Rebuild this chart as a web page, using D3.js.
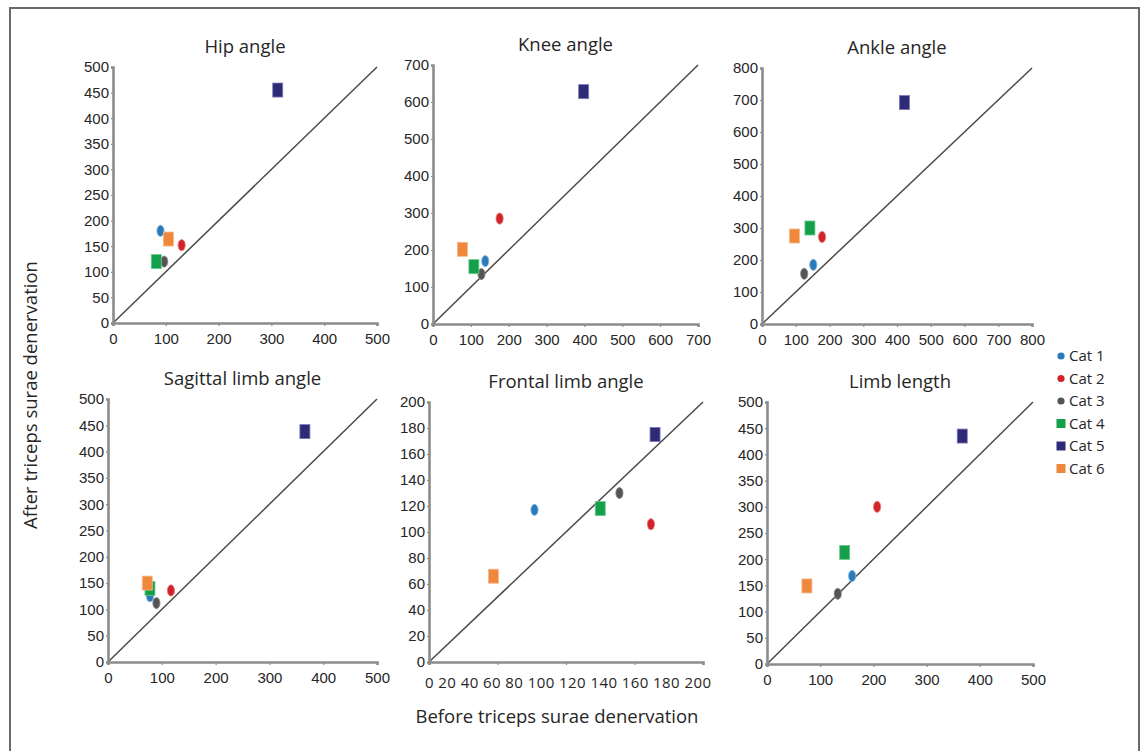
<!DOCTYPE html>
<html>
<head>
<meta charset="utf-8">
<script src="https://cdn.jsdelivr.net/npm/d3@7"></script>
<style>
  html, body { margin: 0; padding: 0; background: #fff; }
  svg { display: block; font-family: "Open Sans", "Noto Sans", sans-serif; }
</style>
</head>
<body>
<svg id="chart" width="1144" height="751"></svg>
<script>
// ---------- DATA ----------
const categories = ["Cat 1", "Cat 2", "Cat 3", "Cat 4", "Cat 5", "Cat 6"];
const panelTitles = ["Hip angle", "Knee angle", "Ankle angle", "Sagittal limb angle", "Frontal limb angle", "Limb length"];

// before (x) and after (y) triceps surae denervation, one value per cat
const hipBefore      = [90, 130, 97, 82, 312, 105];
const hipAfter       = [180, 152, 120, 120, 455, 164];
const kneeBefore     = [138, 176, 128, 108, 398, 78];
const kneeAfter      = [170, 285, 135, 155, 628, 202];
const ankleBefore    = [152, 178, 125, 142, 422, 96];
const ankleAfter     = [185, 272, 157, 300, 692, 275];
const sagittalBefore = [78, 117, 90, 78, 366, 73];
const sagittalAfter  = [125, 136, 112, 140, 438, 150];
const frontalBefore  = [77, 162, 139, 125, 165, 47];
const frontalAfter   = [117, 106, 130, 118, 175, 66];
const lengthBefore   = [160, 207, 133, 146, 367, 75];
const lengthAfter    = [168, 300, 134, 213, 435, 149];

// axis maxima and tick values
const axisMax = [500, 700, 800, 500, 200, 500];
const yTicks = [
  d3.range(0, 501, 50), d3.range(0, 701, 100), d3.range(0, 801, 100),
  d3.range(0, 501, 50), d3.range(0, 201, 20), d3.range(0, 501, 50)
];
const xTicks = [
  d3.range(0, 501, 100), d3.range(0, 701, 100), d3.range(0, 801, 100),
  d3.range(0, 501, 100), d3.range(0, 201, 50), d3.range(0, 501, 100)
];
// frontal panel x labels are printed as a single spaced string
const frontalXTickLabels = [0, 20, 40, 60, 80, 100, 120, 140, 160, 180, 200];

const xLabel = "Before triceps surae denervation";
const yLabel = "After triceps surae denervation";

// ---------- STYLE / LAYOUT ----------
const catColors = ["#2b7bba", "#d2232a", "#555555", "#14a04a", "#2e2a78", "#f0883c"];
const catShapes = ["circle", "circle", "circle", "square", "square", "square"];
const catStroke = ["#7fb3dc", "#ea7a7e", "#8a8a8a", "#6cc98e", "#7a78b8", "#f6b88a"];

// pixel boxes for each panel: [left, right, bottom, top]
const boxes = [
  [113, 377, 323, 67],
  [433, 698, 324, 65],
  [762, 1032, 324, 68],
  [108, 377, 662, 399],
  [429, 703, 662, 402],
  [767, 1033, 664, 402]
];

const panelData = [
  [hipBefore, hipAfter], [kneeBefore, kneeAfter], [ankleBefore, ankleAfter],
  [sagittalBefore, sagittalAfter], [frontalBefore, frontalAfter], [lengthBefore, lengthAfter]
];

const svg = d3.select("#chart");
const textColor = "#262626";
const axisColor = "#8c8c8c";

// frame
svg.append("rect")
  .attr("x", 10).attr("y", 8).attr("width", 1129).attr("height", 800)
  .attr("fill", "none").attr("stroke", "#6a6a6a").attr("stroke-width", 2);

panelTitles.forEach((title, i) => {
  const [l, r, b, t] = boxes[i];
  const x = d3.scaleLinear().domain([0, axisMax[i]]).range([l, r]);
  const y = d3.scaleLinear().domain([0, axisMax[i]]).range([b, t]);
  const g = svg.append("g");

  // diagonal identity line
  g.append("line")
    .attr("x1", x(0)).attr("y1", y(0))
    .attr("x2", x(axisMax[i])).attr("y2", y(axisMax[i]))
    .attr("stroke", "#4a4a4a").attr("stroke-width", 1.5);

  // y axis
  const ya = g.append("g").attr("transform", `translate(${l},0)`)
    .call(d3.axisLeft(y).tickValues(yTicks[i]).tickSize(2).tickPadding(2).tickFormat(d3.format("d")));
  // x axis
  const xa = g.append("g").attr("transform", `translate(0,${b})`)
    .call(d3.axisBottom(x).tickValues(xTicks[i]).tickSize(3).tickPadding(5)
      .tickFormat(i === 4 ? () => "" : d3.format("d")));

  [ya, xa].forEach(a => {
    a.select(".domain").attr("stroke", axisColor).attr("stroke-width", 2.6);
    a.selectAll(".tick line").attr("stroke", axisColor).attr("stroke-width", 1.2);
    a.selectAll(".tick text").attr("fill", textColor).style("font-size", "15px");
  });
  xa.selectAll(".tick text").attr("dy", "0.85em");

  if (i === 4) {
    g.append("text")
      .attr("x", x(0) - 4).attr("y", b + 26)
      .attr("textLength", x(axisMax[i]) - x(0) + 12)
      .attr("lengthAdjust", "spacing")
      .attr("fill", textColor).style("font-size", "15px")
      .text(frontalXTickLabels.join(" "));
  }

  // title
  g.append("text")
    .attr("x", (l + r) / 2).attr("y", t - 14)
    .attr("text-anchor", "middle").attr("fill", textColor)
    .style("font-size", "18.5px")
    .text(title);

  // points
  const [xs, ys] = panelData[i];
  categories.forEach((c, k) => {
    const px = x(xs[k]), py = y(ys[k]);
    if (catShapes[k] === "circle") {
      g.append("ellipse").attr("cx", px).attr("cy", py)
        .attr("rx", 3.6).attr("ry", 5.6)
        .attr("fill", catColors[k]).attr("stroke", catStroke[k]).attr("stroke-width", 0.8);
    } else {
      g.append("rect").attr("x", px - 5).attr("y", py - 7)
        .attr("width", 10).attr("height", 14)
        .attr("fill", catColors[k]).attr("stroke", catStroke[k]).attr("stroke-width", 0.8);
    }
  });
});

// axis titles
svg.append("text")
  .attr("transform", "translate(37,395) rotate(-90)")
  .attr("text-anchor", "middle").attr("fill", textColor)
  .style("font-size", "18.5px")
  .text(yLabel);

svg.append("text")
  .attr("x", 557).attr("y", 723)
  .attr("text-anchor", "middle").attr("fill", textColor)
  .style("font-size", "18.5px")
  .text(xLabel);

// legend
const legend = svg.append("g").attr("transform", "translate(1061,356)");
categories.forEach((c, k) => {
  const gy = k * 22.5;
  if (catShapes[k] === "circle") {
    legend.append("circle").attr("cx", 0).attr("cy", gy).attr("r", 3.6).attr("fill", catColors[k]);
  } else {
    legend.append("rect").attr("x", -4.5).attr("y", gy - 4.5).attr("width", 9).attr("height", 9).attr("fill", catColors[k]);
  }
  legend.append("text").attr("x", 8).attr("y", gy).attr("dy", "0.35em")
    .attr("fill", textColor).style("font-size", "15px").text(c);
});
</script>
</body>
</html>
